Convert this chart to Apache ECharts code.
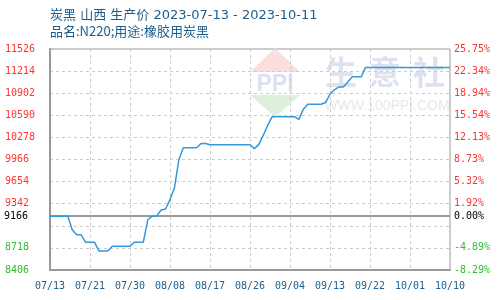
<!DOCTYPE html>
<html>
<head>
<meta charset="utf-8">
<script src="https://cdn.jsdelivr.net/npm/echarts@6/dist/echarts.min.js"></script>
<style>
html,body{margin:0;padding:0;background:#fff;}
#chart{width:500px;height:300px;}
</style>
</head>
<body>
<div id="chart"></div>
<script>
// ---- data ----
const titleText = '炭黑 山西 生产价 2023-07-13 - 2023-10-11';
const subTitleText = '品名:N220;用途:橡胶用炭黑';
const startDate = '2023-07-13';
const xTickLabels = ['07/13','07/21','07/30','08/08','08/17','08/26','09/04','09/13','09/22','10/01','10/10'];
const prices = [
  9166,9166,9166,9166,9166,
  8973,8902,8902,8799,8799,
  8799,8675,8675,8675,8742,
  8742,8742,8742,8742,8799,
  8799,8799,9115,9166,9166,
  9253,9267,9400,9565,9966,
  10132,10132,10132,10132,10193,
  10193,10174,10174,10174,10174,
  10174,10174,10174,10174,10174,
  10174,10120,10180,10310,10450,
  10571,10571,10571,10571,10571,
  10571,10533,10675,10746,10746,
  10746,10746,10770,10888,10950,
  10991,10991,11060,11133,11133,
  11133,11266,11266,11266,11266,
  11266,11266,11266,11266,11266,
  11266,11266,11266,11266,11266,
  11266,11266,11266,11266,11266,
  11266
];
const baseValue = 9166;
const yMin = 8406, yMax = 11526, yStep = 312;
const hiddenTick = 9030;

// daily categories
const categories = [];
{
  const d0 = new Date(startDate + 'T00:00:00Z');
  for (let i = 0; i < prices.length; i++) {
    const d = new Date(d0.getTime() + i * 86400000);
    const mm = String(d.getUTCMonth() + 1).padStart(2, '0');
    const dd = String(d.getUTCDate()).padStart(2, '0');
    categories.push(d.getUTCFullYear() + '-' + mm + '-' + dd);
  }
}
const labelStep = 9;
const tickMap = {};
xTickLabels.forEach((t, k) => { if (categories[k * labelStep]) tickMap[categories[k * labelStep]] = t; });

const mono = '"DejaVu Sans Mono", monospace';
const blue = '#1c5d8c';
const red = '#ff3333';
const green = '#33bb33';

const chart = echarts.init(document.getElementById('chart'), null, {renderer: 'canvas'});
chart.setOption({
  animation: false,
  backgroundColor: '#fff',
  title: {
    text: titleText,
    subtext: subTitleText,
    left: 45,
    top: 4,
    itemGap: 3,
    textStyle: {fontFamily: '"DejaVu Sans", "Noto Sans CJK SC", sans-serif', fontSize: 13, fontWeight: 'normal', color: blue},
    subtextStyle: {fontFamily: '"Noto Sans CJK SC", sans-serif', fontSize: 13, color: blue}
  },
  grid: {left: 50, right: 50, top: 49, bottom: 30, show: true, borderColor: '#999', borderWidth: 1, containLabel: false},
  xAxis: {
    type: 'category',
    data: categories,
    boundaryGap: false,
    axisLine: {show: true, lineStyle: {color: '#999', width: 2}},
    axisTick: {show: false},
    axisLabel: {
      interval: labelStep - 1,
      margin: 11,
      fontFamily: mono, fontSize: 10, color: blue,
      formatter: v => tickMap[v] || ''
    },
    splitLine: {show: true, interval: labelStep - 1, lineStyle: {color: '#ccc', type: [3, 3], width: 1}}
  },
  yAxis: [{
    type: 'value',
    min: yMin, max: yMax, interval: yStep,
    position: 'left',
    axisLine: {show: true, lineStyle: {color: '#999', width: 2}},
    axisTick: {show: false},
    axisLabel: {
      align: 'left', margin: 45,
      fontFamily: mono, fontSize: 10,
      color: v => (v > baseValue ? red : (v < baseValue ? green : '#000')),
      formatter: v => (v === hiddenTick ? '' : String(v))
    },
    splitLine: {show: true, lineStyle: {color: '#ccc', type: [3, 3], width: 1}}
  }, {
    type: 'value',
    min: yMin, max: yMax, interval: yStep,
    position: 'right',
    axisLine: {show: false},
    axisTick: {show: false},
    axisLabel: {
      margin: 4,
      fontFamily: mono, fontSize: 10,
      color: v => (v > baseValue ? red : (v < baseValue ? green : '#000')),
      formatter: v => (v === hiddenTick ? '' : ((v - baseValue) / baseValue * 100).toFixed(2) + '%')
    },
    splitLine: {show: false}
  }],
  graphic: [
    {type: 'polygon', z: 0, silent: true, shape: {points: [[275, 48], [300, 72], [250, 72]]}, style: {fill: '#fbdede'}},
    {type: 'text', z: 0, silent: true, x: 275, y: 73, style: {text: 'PPI', font: 'bold 23px "Liberation Sans", sans-serif', fill: '#dbe1ef', textAlign: 'center', textVerticalAlign: 'top'}},
    {type: 'polygon', z: 0, silent: true, shape: {points: [[250, 95], [300, 95], [275, 117]]}, style: {fill: '#dcf0dc'}},
    {type: 'text', z: 0, silent: true, x: 341, y: 72, style: {text: '生', font: 'bold 32px "Noto Sans CJK SC", sans-serif', fill: '#dde3ee', textAlign: 'center', textVerticalAlign: 'middle'}},
    {type: 'text', z: 0, silent: true, x: 385, y: 72, style: {text: '意', font: 'bold 32px "Noto Sans CJK SC", sans-serif', fill: '#dde3ee', textAlign: 'center', textVerticalAlign: 'middle'}},
    {type: 'text', z: 0, silent: true, x: 429, y: 72, style: {text: '社', font: 'bold 32px "Noto Sans CJK SC", sans-serif', fill: '#dde3ee', textAlign: 'center', textVerticalAlign: 'middle'}},
    {type: 'text', z: 0, silent: true, x: 387, y: 106, style: {text: 'WWW.100PPI.COM', font: '14px "Liberation Sans", sans-serif', fill: '#e8e8e8', textAlign: 'center', textVerticalAlign: 'middle'}}
  ],
  series: [{
    type: 'line',
    data: prices,
    yAxisIndex: 0,
    showSymbol: false,
    symbol: 'none',
    lineStyle: {color: '#3498db', width: 1.5},
    itemStyle: {color: '#3498db'},
    z: 3,
    markLine: {
      silent: true,
      symbol: 'none',
      animation: false,
      z: 1,
      lineStyle: {color: '#999', type: 'solid', width: 2},
      data: [
        {yAxis: baseValue, label: {show: true, position: 'start', distance: 22, formatter: String(baseValue), color: '#000', fontFamily: mono, fontSize: 10}},
        {yAxis: baseValue, label: {show: true, position: 'end', distance: 4, formatter: '0.00%', color: '#000', fontFamily: mono, fontSize: 10}}
      ]
    }
  }]
});
</script>
</body>
</html>
